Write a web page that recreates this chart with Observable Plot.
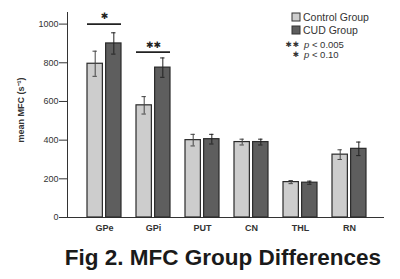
<!DOCTYPE html>
<html>
<head>
<meta charset="utf-8">
<script src="https://cdn.jsdelivr.net/npm/d3@7"></script>
<script src="https://cdn.jsdelivr.net/npm/@observablehq/plot@0.6"></script>
<style>
  html, body { margin: 0; padding: 0; background: #fff; }
  #chart { width: 400px; height: 279px; overflow: hidden; }
</style>
</head>
<body>
<div id="chart"></div>
<script>
// ---- data ----
const regions = ["GPe", "GPi", "PUT", "CN", "THL", "RN"];
const groups = ["Control Group", "CUD Group"];
const controlMean = [795, 580, 400, 390, 183, 325];
const controlErr  = [65, 45, 30, 15, 8, 25];
const cudMean     = [900, 775, 405, 390, 180, 355];
const cudErr      = [55, 50, 25, 15, 8, 35];
const sigRegions  = ["GPe", "GPi"];
const sigLevels   = [1000, 855];
const sigLabels   = ["✱", "✱✱"];
const noteStars   = ["✱✱", "✱"];
const noteTexts   = ["< 0.005", "< 0.10"];
const yTicks = [0, 200, 400, 600, 800, 1000];
const yLabel = "mean MFC (s⁻¹)";
const titleText = "Fig 2. MFC Group Differences";

// ---- build tables ----
const rows = [];
regions.forEach((r, i) => {
  rows.push({region: r, group: groups[0], mean: controlMean[i], lo: controlMean[i] - controlErr[i], hi: controlMean[i] + controlErr[i]});
  rows.push({region: r, group: groups[1], mean: cudMean[i], lo: cudMean[i] - cudErr[i], hi: cudMean[i] + cudErr[i]});
});
const sig = sigRegions.map((r, i) => ({region: r, level: sigLevels[i], label: sigLabels[i]}));

const W = 400, H = 279;
const FONT = "Liberation Sans, Arial, sans-serif";
const xRange = [78, 375], padIn = 0.3, padOut = 0.15;
const step = (xRange[1] - xRange[0]) / (regions.length - padIn + 2 * padOut);
const bw = step * (1 - padIn);
const gap = 1.3;
const half = bw / 2;
const barCenterOff = (half - gap) / 2 + gap; // distance from band center to each bar's center
const capW = 5;

const fillC = {"Control Group": "#cdcdcd", "CUD Group": "#5e5e5e"};

const ctrl = rows.filter(d => d.group === groups[0]);
const cud = rows.filter(d => d.group === groups[1]);

const plot = Plot.plot({
  width: W,
  height: H,
  marginLeft: 67,
  marginRight: 17,
  marginTop: 12,
  marginBottom: 62,
  style: {fontFamily: FONT, background: "#fff", color: "#333", fontSize: "9px"},
  x: {type: "band", domain: regions, range: xRange, paddingInner: padIn, paddingOuter: padOut, line: true, tickSize: 0, tickPadding: 7, label: null},
  y: {domain: [0, 1060], ticks: yTicks, tickFormat: d3.format("d"), tickSize: 8, tickPadding: 1, line: true, label: null},
  marks: [
    Plot.barY(ctrl, {x: "region", y: "mean", fill: d => fillC[d.group], stroke: "#2a2a2a", strokeWidth: 1.2,
      insetLeft: 0, insetRight: half + gap}),
    Plot.barY(cud, {x: "region", y: "mean", fill: d => fillC[d.group], stroke: "#2a2a2a", strokeWidth: 1.2,
      insetLeft: half + gap, insetRight: 0}),
    Plot.ruleX(ctrl, {x: "region", y1: "lo", y2: "hi", dx: -barCenterOff, stroke: "#444", strokeWidth: 1}),
    Plot.ruleX(cud, {x: "region", y1: "lo", y2: "hi", dx: barCenterOff, stroke: "#222", strokeWidth: 1}),
    Plot.tickY(ctrl, {x: "region", y: "hi", insetLeft: half - barCenterOff - capW / 2, insetRight: half + barCenterOff - capW / 2, stroke: "#444"}),
    Plot.tickY(ctrl, {x: "region", y: "lo", insetLeft: half - barCenterOff - capW / 2, insetRight: half + barCenterOff - capW / 2, stroke: "#444"}),
    Plot.tickY(cud, {x: "region", y: "hi", insetLeft: half + barCenterOff - capW / 2, insetRight: half - barCenterOff - capW / 2, stroke: "#222"}),
    Plot.tickY(cud, {x: "region", y: "lo", insetLeft: half + barCenterOff - capW / 2, insetRight: half - barCenterOff - capW / 2, stroke: "#222"}),
    Plot.tickY(sig, {x: "region", y: "level", stroke: "#222", strokeWidth: 1.6}),
    Plot.text(sig, {x: "region", y: "level", text: "label", lineAnchor: "middle", dy: -7.5, fontSize: 9,
      fontFamily: "DejaVu Sans", letterSpacing: 2, fill: "#222"})
  ]
});

const svg = d3.select(plot);
svg.selectAll("g[aria-label='x-axis tick label'] text").attr("font-weight", "bold");

// y-axis title
svg.append("text")
  .attr("transform", "translate(22," + 110 + ") rotate(-90)")
  .attr("text-anchor", "middle").attr("dominant-baseline", "middle")
  .attr("font-family", FONT).attr("font-weight", "bold").attr("font-size", 9).attr("fill", "#333")
  .text(yLabel);

// legend
const lg = svg.append("g").attr("font-family", FONT).attr("fill", "#333").attr("text-anchor", "start");
groups.forEach((g, i) => {
  lg.append("rect").attr("x", 292).attr("y", 13 + i * 13).attr("width", 8).attr("height", 8)
    .attr("fill", fillC[g]).attr("stroke", "#333").attr("stroke-width", 1);
  lg.append("text").attr("x", 303).attr("y", 20.8 + i * 13).attr("font-size", 10.5).text(g);
});
noteStars.forEach((s, i) => {
  const yb = 47.5 + i * 10;
  lg.append("text").attr("x", 300).attr("y", yb - 0.5).attr("text-anchor", "end")
    .attr("font-family", "DejaVu Sans").attr("font-size", 7.5).attr("letter-spacing", 1).text(s);
  const tx = lg.append("text").attr("x", 304).attr("y", yb).attr("font-size", 9.5);
  tx.append("tspan").attr("font-style", "italic").text("p");
  tx.append("tspan").text(" " + noteTexts[i]);
});

// title
svg.append("text").attr("x", 223).attr("y", 265).attr("text-anchor", "middle")
  .attr("font-family", FONT).attr("font-weight", "bold")
  .attr("font-size", 22.5).attr("fill", "#1a1a1a").text(titleText);

document.getElementById("chart").appendChild(plot);
</script>
</body>
</html>
